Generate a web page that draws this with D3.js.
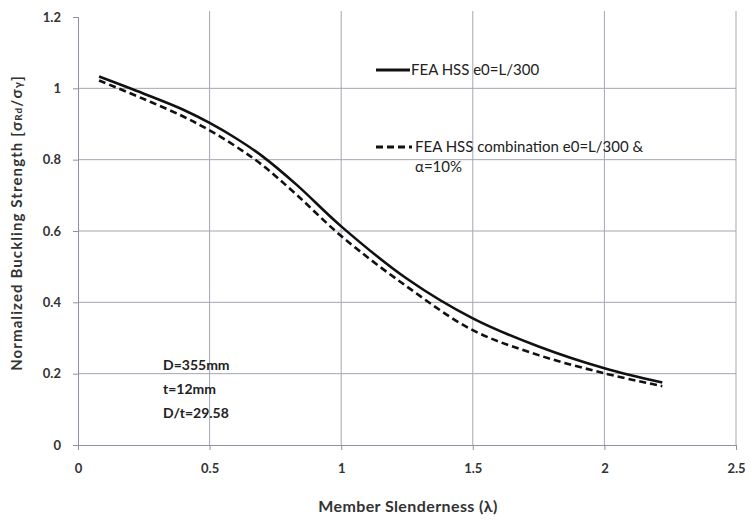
<!DOCTYPE html>
<html><head><meta charset="utf-8">
<script src="https://cdn.jsdelivr.net/npm/d3@7"></script>
<style>body{margin:0;background:#fff}svg{display:block}</style>
</head><body>
<svg id="chart" width="752" height="523"></svg>
<script>
const xTicks = [0, 0.5, 1, 1.5, 2, 2.5];
const yTicks = [0, 0.2, 0.4, 0.6, 0.8, 1, 1.2];
const lambda = [0.08, 0.25, 0.4, 0.5, 0.6, 0.7, 0.83, 1.0, 1.25, 1.5, 1.75, 2.0, 2.22];
const feaHSS = [1.033, 0.985, 0.94, 0.903, 0.86, 0.81, 0.73, 0.613, 0.466, 0.355, 0.276, 0.215, 0.175];
const feaCombo = [1.022, 0.970, 0.921, 0.882, 0.837, 0.785, 0.702, 0.586, 0.444, 0.322, 0.252, 0.201, 0.165];
const seriesNames = ["FEA HSS e0=L/300", "FEA HSS combination e0=L/300 &", "α=10%"];
const notes = ["D=355mm", "t=12mm", "D/t=29.58"];

const svg = d3.select("#chart");
const font = "Lato, 'Open Sans', sans-serif";
const x = d3.scaleLinear().domain([0, 2.5]).range([78, 736]);
const y = d3.scaleLinear().domain([0, 1.2]).range([445, 17]);
const grid = "#a3a7b3";

// gridlines
svg.append("g").selectAll("line").data(yTicks.filter(d => d > 0 && d < 1.2)).join("line")
  .attr("x1", x(0)).attr("x2", x(2.5)).attr("y1", d => y(d)).attr("y2", d => y(d))
  .attr("stroke", grid).attr("stroke-width", 1);
svg.append("g").selectAll("line").data(xTicks.filter(d => d > 0)).join("line")
  .attr("x1", d => x(d)).attr("x2", d => x(d)).attr("y1", y(0)).attr("y2", y(1.2) - 6)
  .attr("stroke", grid).attr("stroke-width", 1);

// axes
const xAxis = svg.append("g").attr("transform", `translate(0,${y(0)})`)
  .call(d3.axisBottom(x).tickValues(xTicks).tickSize(5).tickPadding(14).tickFormat(d => String(d)));
const yAxis = svg.append("g").attr("transform", `translate(${x(0)},0)`)
  .call(d3.axisLeft(y).tickValues(yTicks).tickSize(5).tickPadding(12).tickFormat(d => String(d)));
[xAxis, yAxis].forEach(a => {
  a.select(".domain").attr("stroke", "#8e929e");
  a.selectAll(".tick line").attr("stroke", "#8e929e");
  a.selectAll("text").attr("font-family", font).attr("font-weight", "bold")
    .attr("font-size", 13).attr("fill", "#333");
});

// lines
const line = d3.line().x((d, i) => x(lambda[i])).y(d => y(d)).curve(d3.curveCatmullRom.alpha(0.5));
svg.append("path").datum(feaHSS).attr("d", line).attr("fill", "none")
  .attr("stroke", "#111").attr("stroke-width", 2.6);
svg.append("path").datum(feaCombo).attr("d", line).attr("fill", "none")
  .attr("stroke", "#111").attr("stroke-width", 2.6).attr("stroke-dasharray", "7,4");

// legend
svg.append("line").attr("x1", 376).attr("x2", 410).attr("y1", 70).attr("y2", 70)
  .attr("stroke", "#111").attr("stroke-width", 2.8);
svg.append("text").attr("x", 411).attr("y", 75).text(seriesNames[0])
  .attr("font-family", font).attr("font-size", 15).attr("fill", "#222");
svg.append("line").attr("x1", 376).attr("x2", 412).attr("y1", 147).attr("y2", 147)
  .attr("stroke", "#111").attr("stroke-width", 2.8).attr("stroke-dasharray", "7,4");
svg.append("text").attr("x", 415).attr("y", 152).text(seriesNames[1])
  .attr("font-family", font).attr("font-size", 15).attr("fill", "#222");
svg.append("text").attr("x", 415).attr("y", 172).text(seriesNames[2])
  .attr("font-family", font).attr("font-size", 15).attr("fill", "#222");

// notes
svg.append("g").selectAll("text").data(notes).join("text")
  .attr("x", 163).attr("y", (d, i) => 370 + i * 24).text(d => d)
  .attr("font-family", font).attr("font-weight", "bold").attr("font-size", 14).attr("fill", "#222");

// axis titles
svg.append("text").attr("x", (x(0) + x(2.5)) / 2 + 1).attr("y", 512).attr("text-anchor", "middle")
  .attr("font-family", font).attr("font-weight", "bold").attr("font-size", 16).attr("fill", "#333")
  .attr("letter-spacing", 0.4)
  .text("Member Slenderness (λ)");
const yt = svg.append("text").attr("transform", "translate(22,223) rotate(-90)").attr("text-anchor", "middle")
  .attr("font-family", font).attr("font-weight", "bold").attr("font-size", 15).attr("fill", "#333")
  .attr("letter-spacing", 1.1);
yt.append("tspan").text("Normalized Buckling  Strength [σ");
yt.append("tspan").attr("font-size", 10).text("Rd");
yt.append("tspan").text("/σ");
yt.append("tspan").attr("font-size", 11).text("γ");
yt.append("tspan").text("]");
</script>
</body></html>
